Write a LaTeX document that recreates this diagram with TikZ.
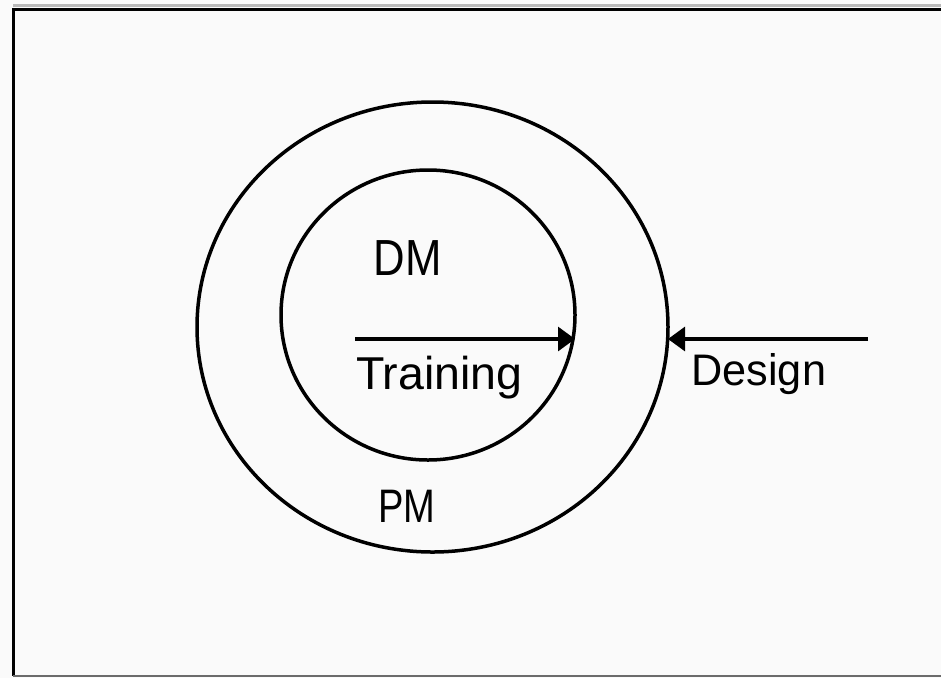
\documentclass[tikz,border=0pt]{standalone}
\usepackage{fontspec}
\setmainfont{Liberation Sans}
\usetikzlibrary{shapes.geometric,arrows.meta}

\tikzset{
  ring/.style={draw=black, ellipse, line width=3.5pt, inner sep=0pt, outer sep=0pt},
  flow/.style={draw=black, line width=3.2pt, -{Triangle[length=17pt,width=24pt]}},
  label/.style={inner sep=0pt, outer sep=0pt, anchor=base west,
                font=\fontsize{47}{50}\selectfont}
}

\begin{document}
\begin{tikzpicture}[x=1pt,y=-1pt]
  \useasboundingbox (0,0) rectangle (941,678);
  \fill[white!98!black] (0,0) rectangle (941,678);

  % frame
  \draw[gray!55, line width=3pt] (13,5) -- (941,5);
  \draw[black, line width=3pt] (945,9.5) -- (13,9.5) -- (13,676);
  \draw[black!58, line width=2.5pt] (13,676) -- (941,676);

  % the two nested rings
  \node[ring, minimum width=471pt, minimum height=450pt] (pm) at (432.5,327) {};
  \node[ring, minimum width=294pt, minimum height=290pt] (dm) at (428,315) {};

  % labels
  \node[label] (dmtext) at (373.5,275) {\scalebox{0.93}[1.08]{DM}};
  \node[label] (pmtext) at (378,522) {\scalebox{0.81}[1.0]{PM}};
  \node[label] (traintext) at (356,389) {\scalebox{0.99}[0.98]{Training}};
  \node[label] (designtext) at (691.5,385) {\scalebox{0.92}[0.94]{Design}};

  % arrows
  \coordinate (tstart) at (355,339);
  \coordinate (dstart) at (868,339);
  \draw[flow] (tstart) -- (tstart -| dm.east);
  \draw[flow] (dstart) -- (dstart -| pm.east);
\end{tikzpicture}
\end{document}
